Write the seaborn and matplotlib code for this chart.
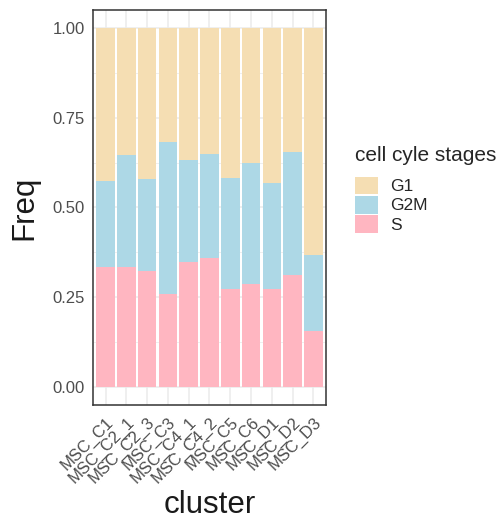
import matplotlib
matplotlib.use("Agg")
import matplotlib.pyplot as plt
import numpy as np
import pandas as pd
import seaborn as sns
from matplotlib.patches import Patch

clusters = ["MSC_C1", "MSC_C2_1", "MSC_C2_3", "MSC_C3", "MSC_C4_1", "MSC_C4_2",
            "MSC_C5", "MSC_C6", "MSC_D1", "MSC_D2", "MSC_D3"]
freq_s = [0.334, 0.334, 0.324, 0.258, 0.347, 0.358, 0.273, 0.286, 0.274, 0.311, 0.156]
freq_g2m = [0.240, 0.312, 0.255, 0.424, 0.285, 0.291, 0.309, 0.338, 0.294, 0.343, 0.211]
freq_g1 = [0.426, 0.354, 0.421, 0.318, 0.368, 0.351, 0.418, 0.376, 0.432, 0.346, 0.633]
stages = ["G1", "G2M", "S"]
stage_colors = {"G1": "#F5DEB3", "G2M": "#ADD8E6", "S": "#FFB6C1"}

df = pd.DataFrame({
    "cluster": clusters * 3,
    "stage": ["S"] * 11 + ["G2M"] * 11 + ["G1"] * 11,
    "Freq": freq_s + freq_g2m + freq_g1,
})
# stack order bottom -> top: S, G2M, G1
df["top"] = df.groupby("cluster", sort=False)["Freq"].cumsum()

sns.set_style("white")
plt.rcParams["font.family"] = ["Liberation Sans", "DejaVu Sans"]

fig = plt.figure(figsize=(5.03, 5.23), dpi=100)
ax = fig.add_axes([0.185, 0.2256, 0.463, 0.7555])

# grid like theme_bw
for v in np.arange(0, 1.01, 0.125):
    major = abs(v * 4 - round(v * 4)) < 1e-9
    ax.axhline(v, color="#EBEBEB", lw=1.1 if major else 0.55, zorder=0.5)
for i in range(len(clusters)):
    ax.axvline(i, color="#EBEBEB", lw=1.1, zorder=0.5)

# draw tallest layer first so the lower ones sit on top
for st in ["G1", "G2M", "S"]:
    sub = df[df["stage"] == st]
    sns.barplot(data=sub, x="cluster", y="top", order=clusters, color=stage_colors[st],
                width=0.9, saturation=1, edgecolor="none", ax=ax, zorder=2)

ax.set_xlim(-0.6, 10.6)
ax.set_ylim(-0.05, 1.05)
ax.set_yticks([0, 0.25, 0.5, 0.75, 1.0])
ax.set_yticklabels(["0.00", "0.25", "0.50", "0.75", "1.00"])
ax.set_xticks(range(len(clusters)))
ax.set_xticklabels(clusters, rotation=45, ha="right", va="top", rotation_mode="anchor")

ax.tick_params(axis="both", direction="out", length=4, width=1, color="#333333",
               labelsize=12, labelcolor="#4D4D4D", pad=2)
ax.tick_params(axis="x", pad=3)
for sp in ax.spines.values():
    sp.set_color("#333333")
    sp.set_linewidth(1.1)
    sp.set_zorder(5)

ax.set_xlabel("cluster", fontsize=22.5, color="#1A1A1A", labelpad=3)
ax.set_ylabel("Freq", fontsize=22.5, color="#1A1A1A", labelpad=9)

handles = [Patch(facecolor=stage_colors[s], edgecolor="none", label=s) for s in stages]
leg = fig.legend(handles=handles, title="cell cyle stages", loc="upper left",
                 bbox_to_anchor=(0.706, 0.72), frameon=False, fontsize=12.5,
                 title_fontsize=15, handlelength=1.32, handleheight=1.2,
                 labelspacing=0.08, handletextpad=0.7, borderaxespad=0,
                 borderpad=0)
leg._legend_box.align = "left"
leg._legend_box.sep = 8

fig.savefig("out.png", dpi=100)
